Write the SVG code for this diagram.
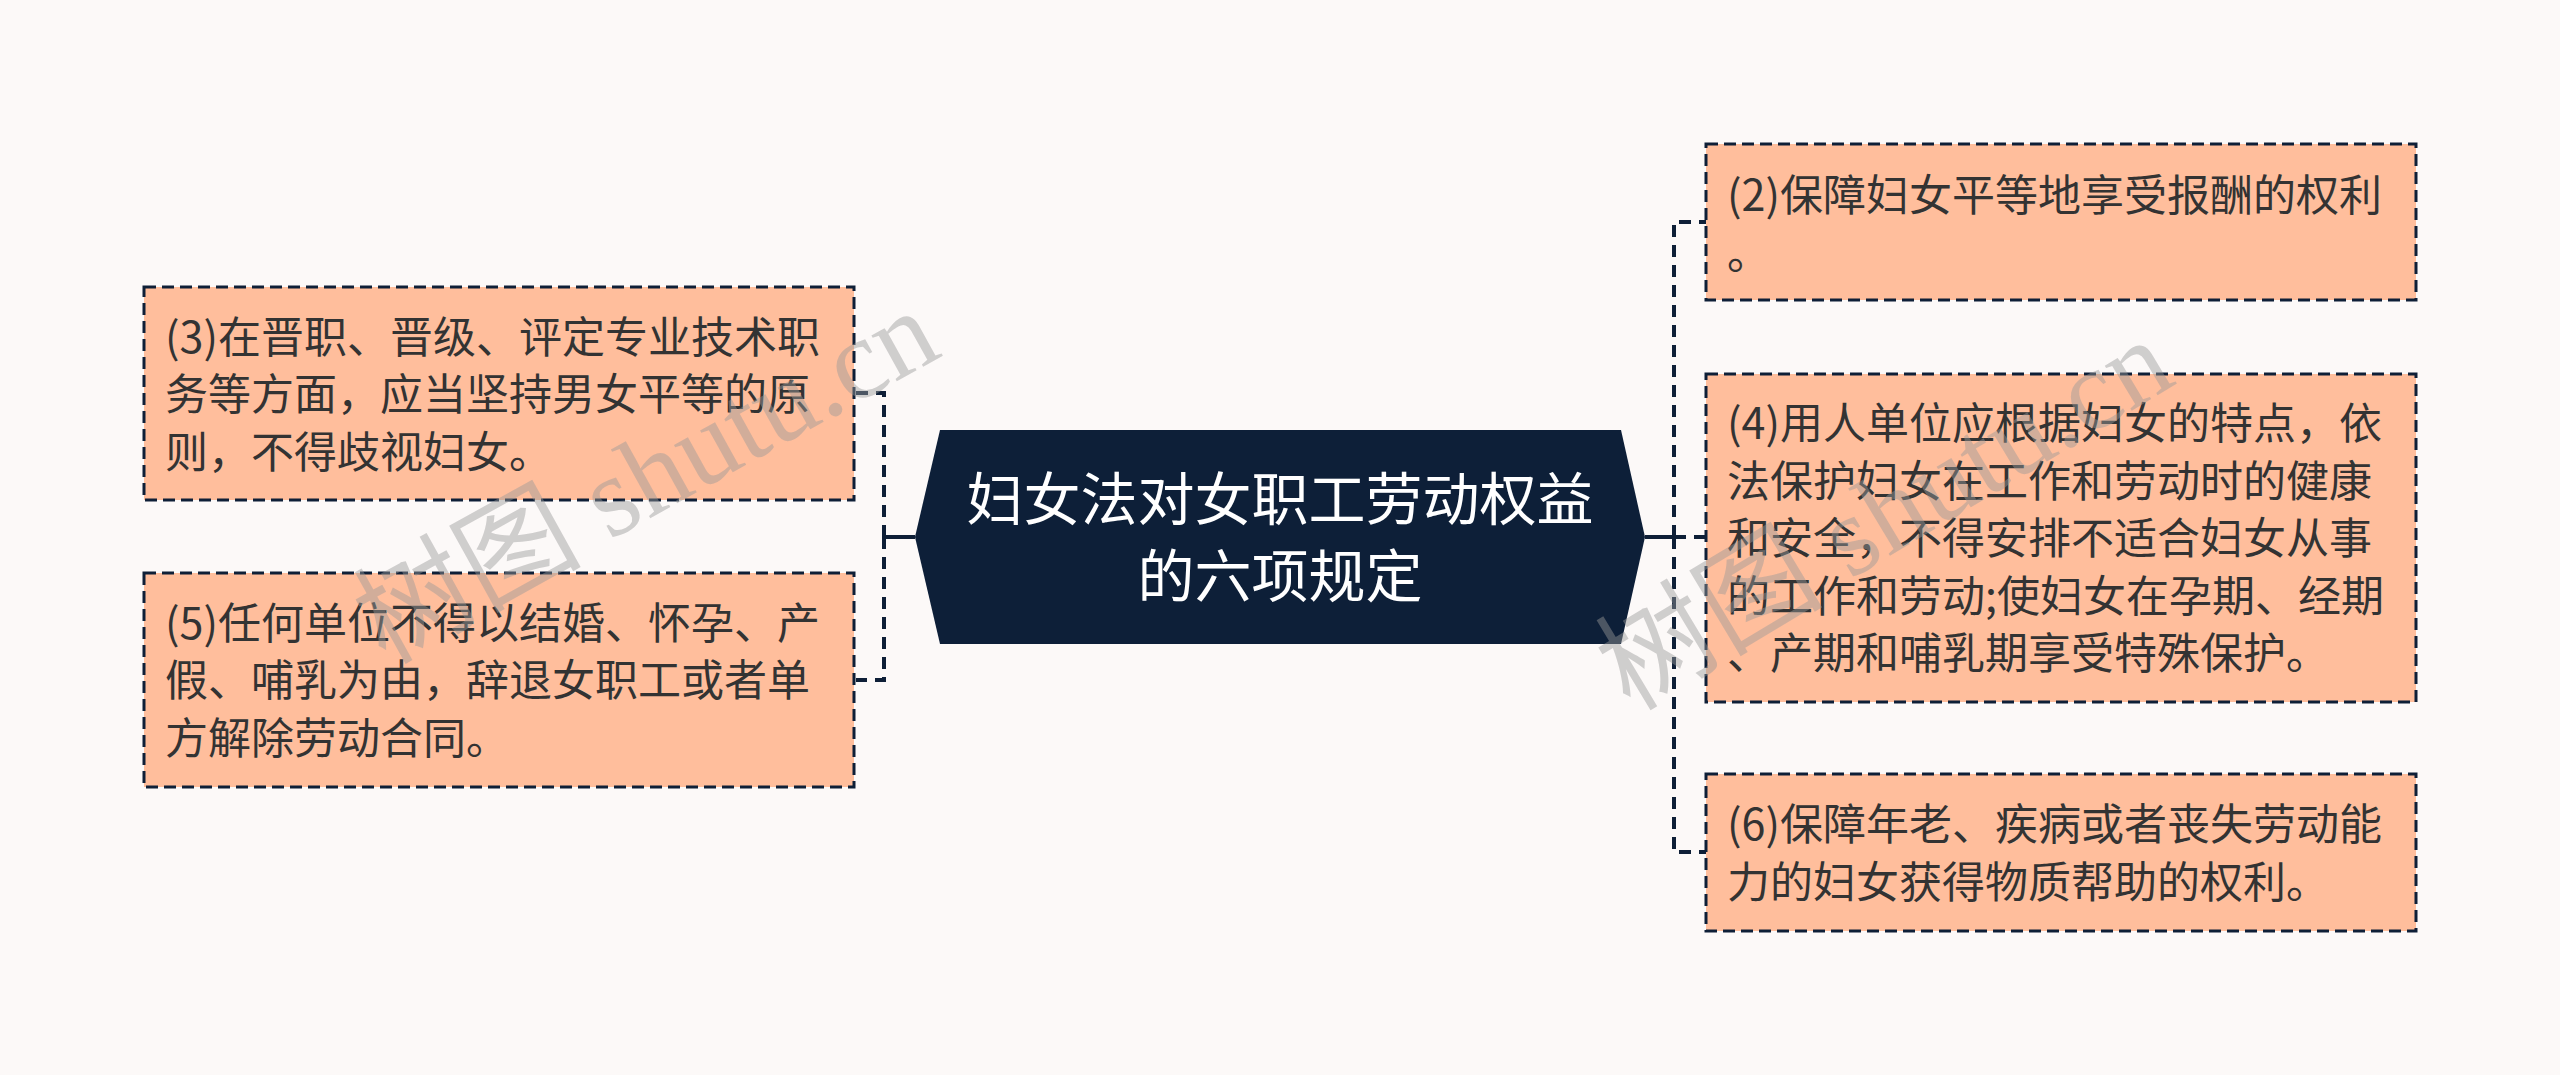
<svg xmlns="http://www.w3.org/2000/svg" width="2560" height="1075" viewBox="0 0 2560 1075">
<style>
.box{fill:#ffbe9c;stroke:#0e1f37;stroke-width:3;stroke-dasharray:12 6}
.t{font-family:"Noto Sans CJK SC","Noto Sans",sans-serif;font-size:43px;fill:#333}
.ct{font-family:"Noto Sans CJK SC","Noto Sans",sans-serif;font-size:57px;fill:#ffffff;text-anchor:middle}
.solid{fill:none;stroke:#0e1f37;stroke-width:4}
.dash{fill:none;stroke:#0e1f37;stroke-width:4;stroke-dasharray:12 8}
.wm{font-family:"Liberation Serif","Noto Sans CJK SC",serif;font-size:114px;fill:#9a9a9a;fill-opacity:0.45}
</style>
<rect x="0" y="0" width="2560" height="1075" fill="#fcf9f8"/>
<g id="connectors">
<path class="solid" d="M915 537 H884"/>
<path class="dash" d="M884 537 V393 H856"/>
<path class="dash" d="M884 537 V680 H856"/>
<path class="solid" d="M1645 537 H1674"/>
<path class="dash" d="M1674 537 V222 H1706"/>
<path class="dash" d="M1674 537 H1706"/>
<path class="dash" d="M1674 537 V852 H1706"/>
</g>
<g id="center">
<polygon points="940,430 1621,430 1645,537 1621,644 940,644 915,537" fill="#0d1f38"/>
<text class="ct" x="1280" y="520">妇女法对女职工劳动权益</text>
<text class="ct" x="1280" y="597">的六项规定</text>
</g>
<g id="node3">
<rect class="box" x="144" y="287" width="710" height="213"/>
<text class="t" x="165" y="353">(3)在晋职、晋级、评定专业技术职</text>
<text class="t" x="165" y="410">务等方面，应当坚持男女平等的原</text>
<text class="t" x="165" y="468">则，不得歧视妇女。</text>
</g>
<g id="node5">
<rect class="box" x="144" y="573" width="710" height="214"/>
<text class="t" x="165" y="639">(5)任何单位不得以结婚、怀孕、产</text>
<text class="t" x="165" y="696">假、哺乳为由，辞退女职工或者单</text>
<text class="t" x="165" y="754">方解除劳动合同。</text>
</g>
<g id="node2">
<rect class="box" x="1706" y="144" width="710" height="156"/>
<text class="t" x="1727" y="211">(2)保障妇女平等地享受报酬的权利</text>
<text class="t" x="1727" y="269">。</text>
</g>
<g id="node4">
<rect class="box" x="1706" y="374" width="710" height="328"/>
<text class="t" x="1727" y="439">(4)用人单位应根据妇女的特点，依</text>
<text class="t" x="1727" y="497">法保护妇女在工作和劳动时的健康</text>
<text class="t" x="1727" y="554">和安全，不得安排不适合妇女从事</text>
<text class="t" x="1727" y="612">的工作和劳动;使妇女在孕期、经期</text>
<text class="t" x="1727" y="669">、产期和哺乳期享受特殊保护。</text>
</g>
<g id="node6">
<rect class="box" x="1706" y="774" width="710" height="157"/>
<text class="t" x="1727" y="840">(6)保障年老、疾病或者丧失劳动能</text>
<text class="t" x="1727" y="898">力的妇女获得物质帮助的权利。</text>
</g>
<g id="watermark">
<text class="wm" transform="translate(385,665) rotate(-29)">树图 shutu.cn</text>
<text class="wm" transform="translate(1630,712) rotate(-31)">树图 shutu.cn</text>
</g>
</svg>
